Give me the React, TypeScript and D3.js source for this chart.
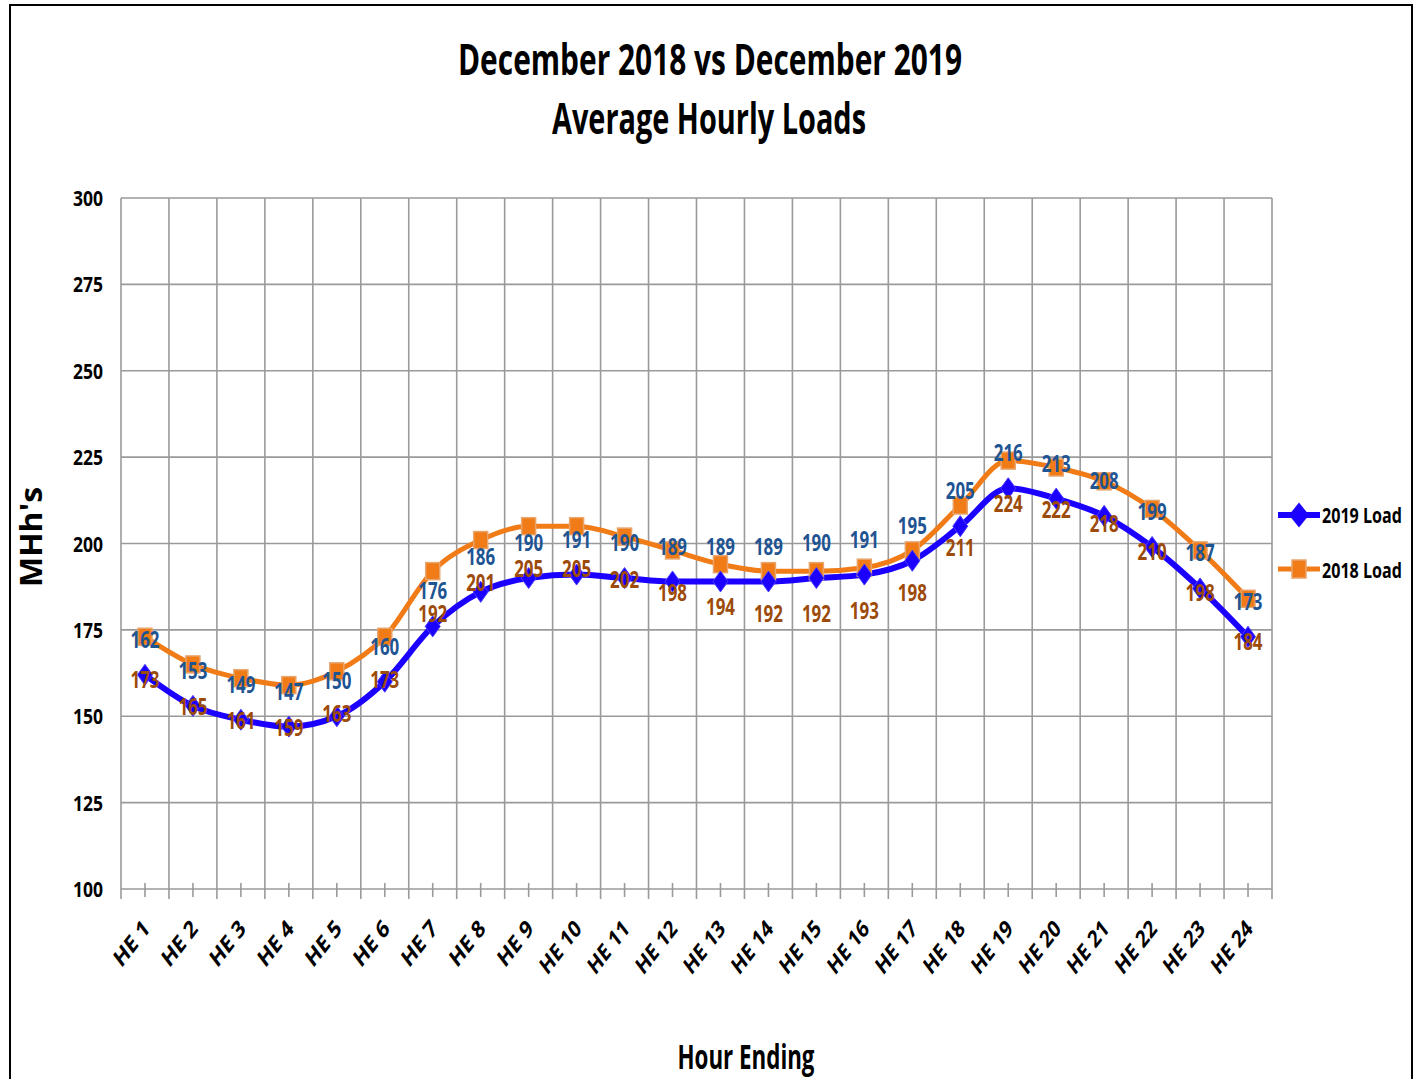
import React from "react";
import * as d3 from "d3";

const HOURS = d3.range(1, 25).map((h) => `HE ${h}`);
const LOAD_2019 = [162, 153, 149, 147, 150, 160, 176, 186, 190, 191, 190, 189, 189, 189, 190, 191, 195, 205, 216, 213, 208, 199, 187, 173];
const LOAD_2018 = [173, 165, 161, 159, 163, 173, 192, 201, 205, 205, 202, 198, 194, 192, 192, 193, 198, 211, 224, 222, 218, 210, 198, 184];
const Y_TICKS = [100, 125, 150, 175, 200, 225, 250, 275, 300];

const W = 1420;
const H = 1079;
const PLOT = { left: 121, right: 1272, top: 198, bottom: 889 };
const SY = 1.3; // the source picture is stretched vertically
const FONT = "'Open Sans', 'Liberation Sans', Arial, sans-serif";

const BLUE = "#1B00FF";
const ORANGE = "#F07B17";
const BLUE_LABEL = "#1F5493";
const BROWN_LABEL = "#9C4B0A";
const GRID = "#9a9a9a";

type TxtProps = {
  x: number;
  y: number;
  size: number;
  w: number;
  anchor?: "start" | "middle" | "end";
  fill?: string;
  rot?: number;
  children: React.ReactNode;
};

// condensed, vertically stretched text to mimic the original rendering
function Txt({ x, y, size, w, anchor = "start", fill = "#000", rot = 0, children }: TxtProps) {
  const dx = anchor === "middle" ? -w / 2 : anchor === "end" ? -w : 0;
  return (
    <text
      transform={`translate(${x},${y}) scale(1,${SY}) rotate(${rot})`}
      x={dx}
      y={0}
      fontSize={size}
      fontFamily={FONT}
      fontWeight={700}
      fill={fill}
      textLength={w}
      lengthAdjust="spacingAndGlyphs"
    >
      {children}
    </text>
  );
}

const diamond = (cx: number, cy: number, hw: number, hh: number) =>
  `M${cx},${cy - hh}L${cx + hw},${cy}L${cx},${cy + hh}L${cx - hw},${cy}Z`;

export default function App() {
  const x = d3.scaleBand<string>().domain(HOURS).range([PLOT.left, PLOT.right]);
  const y = d3.scaleLinear().domain([100, 300]).range([PLOT.bottom, PLOT.top]);
  const cx = (i: number) => (x(HOURS[i]) as number) + x.bandwidth() / 2;

  const line = d3
    .line<number>()
    .x((_, i) => cx(i))
    .y((d) => y(d))
    .curve(d3.curveMonotoneX);

  const bounds = d3.range(0, HOURS.length + 1).map((i) => PLOT.left + i * x.step());

  return (
    <svg
      width={W}
      height={H}
      style={{ position: "absolute", left: 0, top: 0, background: "#fff" }}
    >
      <rect x={10} y={5} width={1402} height={1100} fill="#fff" stroke="#000" strokeWidth={2} />

      {/* Title */}
      <Txt x={710} y={75} size={33} w={504} anchor="middle">
        December 2018 vs December 2019
      </Txt>
      <Txt x={709} y={134} size={33} w={314} anchor="middle">
        Average Hourly Loads
      </Txt>

      {/* Grid */}
      {Y_TICKS.map((t) => (
        <line key={`h${t}`} x1={PLOT.left} x2={PLOT.right} y1={y(t)} y2={y(t)} stroke={GRID} strokeWidth={1.6} />
      ))}
      {bounds.map((bx, i) => (
        <line key={`v${i}`} x1={bx} x2={bx} y1={PLOT.top} y2={PLOT.bottom + 10} stroke={GRID} strokeWidth={1.6} />
      ))}
      {HOURS.map((h, i) => (
        <line key={`m${h}`} x1={cx(i)} x2={cx(i)} y1={PLOT.bottom - 6} y2={PLOT.bottom + 8} stroke={GRID} strokeWidth={1.6} />
      ))}

      {/* Y tick labels */}
      {Y_TICKS.map((t) => (
        <Txt key={`yl${t}`} x={103} y={y(t) + 8} size={17} w={30} anchor="end">
          {t}
        </Txt>
      ))}

      {/* X tick labels */}
      {HOURS.map((h, i) => (
        <Txt key={`xl${h}`} x={cx(i) + 6} y={PLOT.bottom + 41} size={18.5} w={34 + 8 * String(i + 1).length} anchor="end" rot={-45}>
          {h}
        </Txt>
      ))}

      {/* Axis titles */}
      <Txt x={42} y={537} size={30} w={77} anchor="middle" rot={-90}>
        MHh's
      </Txt>
      <Txt x={746} y={1069} size={26} w={137} anchor="middle">
        Hour Ending
      </Txt>

      {/* Series lines */}
      <path d={line(LOAD_2018) || ""} fill="none" stroke={ORANGE} strokeWidth={5} />
      <path d={line(LOAD_2019) || ""} fill="none" stroke={BLUE} strokeWidth={6} />

      {/* Markers */}
      {LOAD_2018.map((v, i) => (
        <rect key={`sq${i}`} x={cx(i) - 7} y={y(v) - 8.5} width={14} height={17} fill={ORANGE} stroke="#E9A46C" strokeWidth={1.5} />
      ))}
      {LOAD_2019.map((v, i) => (
        <path key={`dm${i}`} d={diamond(cx(i), y(v), 7.5, 10.5)} fill={BLUE} stroke="#4a3cff" strokeWidth={1} />
      ))}

      {/* Data labels */}
      {LOAD_2019.map((v, i) => (
        <Txt key={`l19${i}`} x={cx(i)} y={y(v) - 27} size={18} w={29} anchor="middle" fill={BLUE_LABEL}>
          {v}
        </Txt>
      ))}
      {LOAD_2018.map((v, i) => (
        <Txt key={`l18${i}`} x={cx(i)} y={y(v) + 51} size={18} w={29} anchor="middle" fill={BROWN_LABEL}>
          {v}
        </Txt>
      ))}

      {/* Legend */}
      <line x1={1278} x2={1320} y1={515} y2={515} stroke={BLUE} strokeWidth={6} />
      <path d={diamond(1299, 515, 10, 12.5)} fill={BLUE} />
      <Txt x={1322} y={523} size={16} w={80}>
        2019 Load
      </Txt>
      <line x1={1278} x2={1320} y1={569} y2={569} stroke={ORANGE} strokeWidth={5} />
      <rect x={1292} y={560} width={14} height={18} fill={ORANGE} stroke="#E9A46C" strokeWidth={1.5} />
      <Txt x={1322} y={578} size={16} w={80}>
        2018 Load
      </Txt>
    </svg>
  );
}
